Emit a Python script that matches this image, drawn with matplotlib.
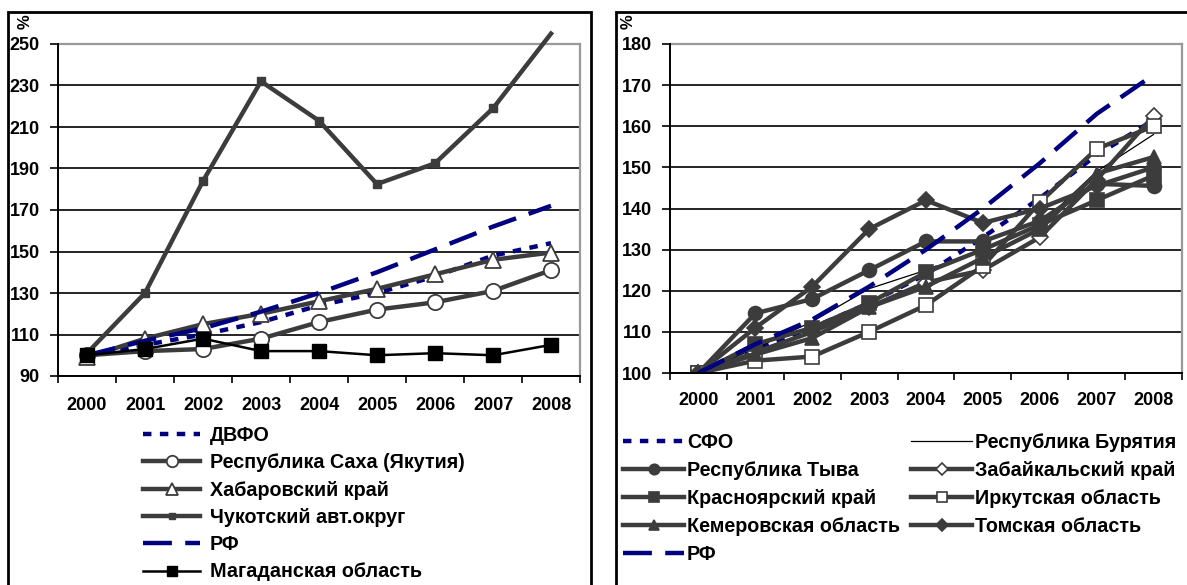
import numpy as np
import matplotlib.pyplot as plt
from matplotlib.patches import Rectangle

plt.rcParams['font.family'] = ['Liberation Sans', 'DejaVu Sans']
plt.rcParams['font.weight'] = 'bold'

years = ['2000', '2001', '2002', '2003', '2004', '2005', '2006', '2007', '2008']

# left chart: Far East
dvfo = [100, 105, 110, 116, 124, 130, 138, 148, 154]
yakutia = [100, 102, 103, 108, 116, 122, 125.5, 131, 141]
khabarovsk = [99, 108, 115, 120, 126, 132, 139, 146, 149.5]
chukotka = [101, 130, 184, 232, 213, 182.5, 192.5, 219, 255]
rf_left = [100, 107, 113, 121, 130, 140, 151, 162, 172]
magadan = [100, 103, 108, 102, 102, 100, 101, 100, 105]

# right chart: Siberia
sfo = [100, 106, 111, 117, 124, 133, 142.5, 153, 161.5]
buryatia = [100, 106, 112.5, 120.5, 125, 130, 136, 149, 158]
tyva = [100, 114.5, 118, 125, 132, 132, 137, 146, 145.5]
zabaikal = [100, 105, 110, 116, 122, 125, 133, 147, 162.5]
krasnoyarsk = [100, 107, 111, 117, 124.5, 130, 136, 142, 148]
irkutsk = [100, 103, 104, 110, 116.5, 126, 141.5, 154.5, 160]
kemerovo = [100, 104.5, 108.5, 116, 121, 128, 135, 148.5, 152.5]
tomsk = [100, 111, 121, 135, 142, 136.5, 140, 145.5, 150]
rf_right = [100, 107, 113, 121, 130, 140, 151, 163, 172.5]

W, H = 1187, 585
fig = plt.figure(figsize=(W / 100, H / 100), dpi=100)

GRAY = '#3c3c3c'
NAVY = '#000080'
DOT = (1.9, 1.9)
DASH = (6.5, 3.0)
x = np.arange(len(years))


def frac(px, py):
    return px / W, 1 - py / H


def setup(ax, lo, hi, step, xpad):
    ax.set_xlim(-0.5, len(years) - 0.5)
    ax.set_ylim(lo, hi)
    ax.set_yticks(np.arange(lo, hi + 1, step))
    ax.set_xticks(x)
    ax.set_xticklabels(years)
    ax.set_xticks(np.arange(-0.5, len(years)), minor=True)
    ax.tick_params(axis='x', which='major', length=0, pad=xpad, labelsize=13)
    ax.tick_params(axis='x', which='minor', length=5, width=1.2, direction='out')
    ax.tick_params(axis='y', length=6, width=1.2, pad=7, labelsize=13)
    ax.set_axisbelow(True)
    ax.yaxis.grid(True, color='black', lw=1.2)
    for s in ['top', 'right']:
        ax.spines[s].set_color('#999999')
        ax.spines[s].set_linewidth(1.6)
        ax.spines[s].set_zorder(0.8)
    for s in ['left', 'bottom']:
        ax.spines[s].set_linewidth(1.4)


# panel frames
fig.patches.append(Rectangle(frac(8, 600), (591 - 8) / W, (600 - 12) / H,
                             transform=fig.transFigure, fill=False, lw=2, ec='black'))
fig.patches.append(Rectangle(frac(616, 600), (1200 - 616) / W, (600 - 12) / H,
                             transform=fig.transFigure, fill=False, lw=2, ec='black'))

leg_kw = dict(loc='upper left', frameon=False, borderpad=0, borderaxespad=0,
              fontsize=14.2, numpoints=1, markerscale=0.75)

# ---------- left chart ----------
ax1 = fig.add_axes([58 / W, 1 - 376 / H, (580 - 58) / W, (376 - 44) / H])
setup(ax1, 90, 250, 20, 15)
ax1.plot(x, dvfo, color=NAVY, lw=3.2, dashes=DOT, label='ДВФО')
ax1.plot(x, yakutia, color=GRAY, lw=3.2, marker='o', ms=11, mfc='white', mec=GRAY, mew=1.3,
         label='Республика Саха (Якутия)')
ax1.plot(x, khabarovsk, color=GRAY, lw=3.2, marker='^', ms=12, mfc='white', mec=GRAY, mew=1.3,
         label='Хабаровский край')
ax1.plot(x, chukotka, color=GRAY, lw=3.2, marker='s', ms=6, markevery=list(range(8)),
         clip_on=False, label='Чукотский авт.округ')
ax1.plot(x, rf_left, color=NAVY, lw=3.2, dashes=DASH, label='РФ')
ax1.plot(x, magadan, color='black', lw=1.8, marker='s', ms=10, label='Магаданская область')
fig.text(25 / W, 1 - 22 / H, '%', rotation=90, ha='center', va='center', fontsize=12)

h1, l1 = ax1.get_legend_handles_labels()
fig.legend(h1, l1, bbox_to_anchor=frac(143, 426), handlelength=2.9, handletextpad=0.5,
           labelspacing=0.42, **leg_kw)

# ---------- right chart ----------
ax2 = fig.add_axes([670 / W, 1 - 373 / H, (1182 - 670) / W, (373 - 44) / H])
setup(ax2, 100, 180, 10, 14)
kw = dict(color=GRAY, lw=3.2, ms=10, mew=1.2, mec=GRAY)
l_sfo, = ax2.plot(x, sfo, color=NAVY, lw=3.2, dashes=DOT, label='СФО')
l_bur, = ax2.plot(x, buryatia, color='black', lw=0.9, label='Республика Бурятия')
l_tyv, = ax2.plot(x, tyva, marker='o', label='Республика Тыва', **kw)
l_zab, = ax2.plot(x, zabaikal, marker='D', mfc='white', label='Забайкальский край',
                  **{**kw, 'ms': 8})
l_kra, = ax2.plot(x, krasnoyarsk, marker='s', label='Красноярский край', **kw)
l_irk, = ax2.plot(x, irkutsk, marker='s', mfc='white', label='Иркутская область', **kw)
l_kem, = ax2.plot(x, kemerovo, marker='^', label='Кемеровская область', **kw)
l_tom, = ax2.plot(x, tomsk, marker='D', label='Томская область', **{**kw, 'ms': 8})
l_rf, = ax2.plot(x, rf_right, color=NAVY, lw=3.2, dashes=DASH, label='РФ')
fig.text(628 / W, 1 - 22 / H, '%', rotation=90, ha='center', va='center', fontsize=12)

order = [l_sfo, l_tyv, l_kra, l_kem, l_rf, l_bur, l_zab, l_irk, l_tom]
fig.legend(order, [h.get_label() for h in order], bbox_to_anchor=frac(623, 433), ncol=2,
           handlelength=3.1, handletextpad=0.15, columnspacing=0.55, labelspacing=0.46,
           **leg_kw)

fig.savefig('out.png', dpi=100)
